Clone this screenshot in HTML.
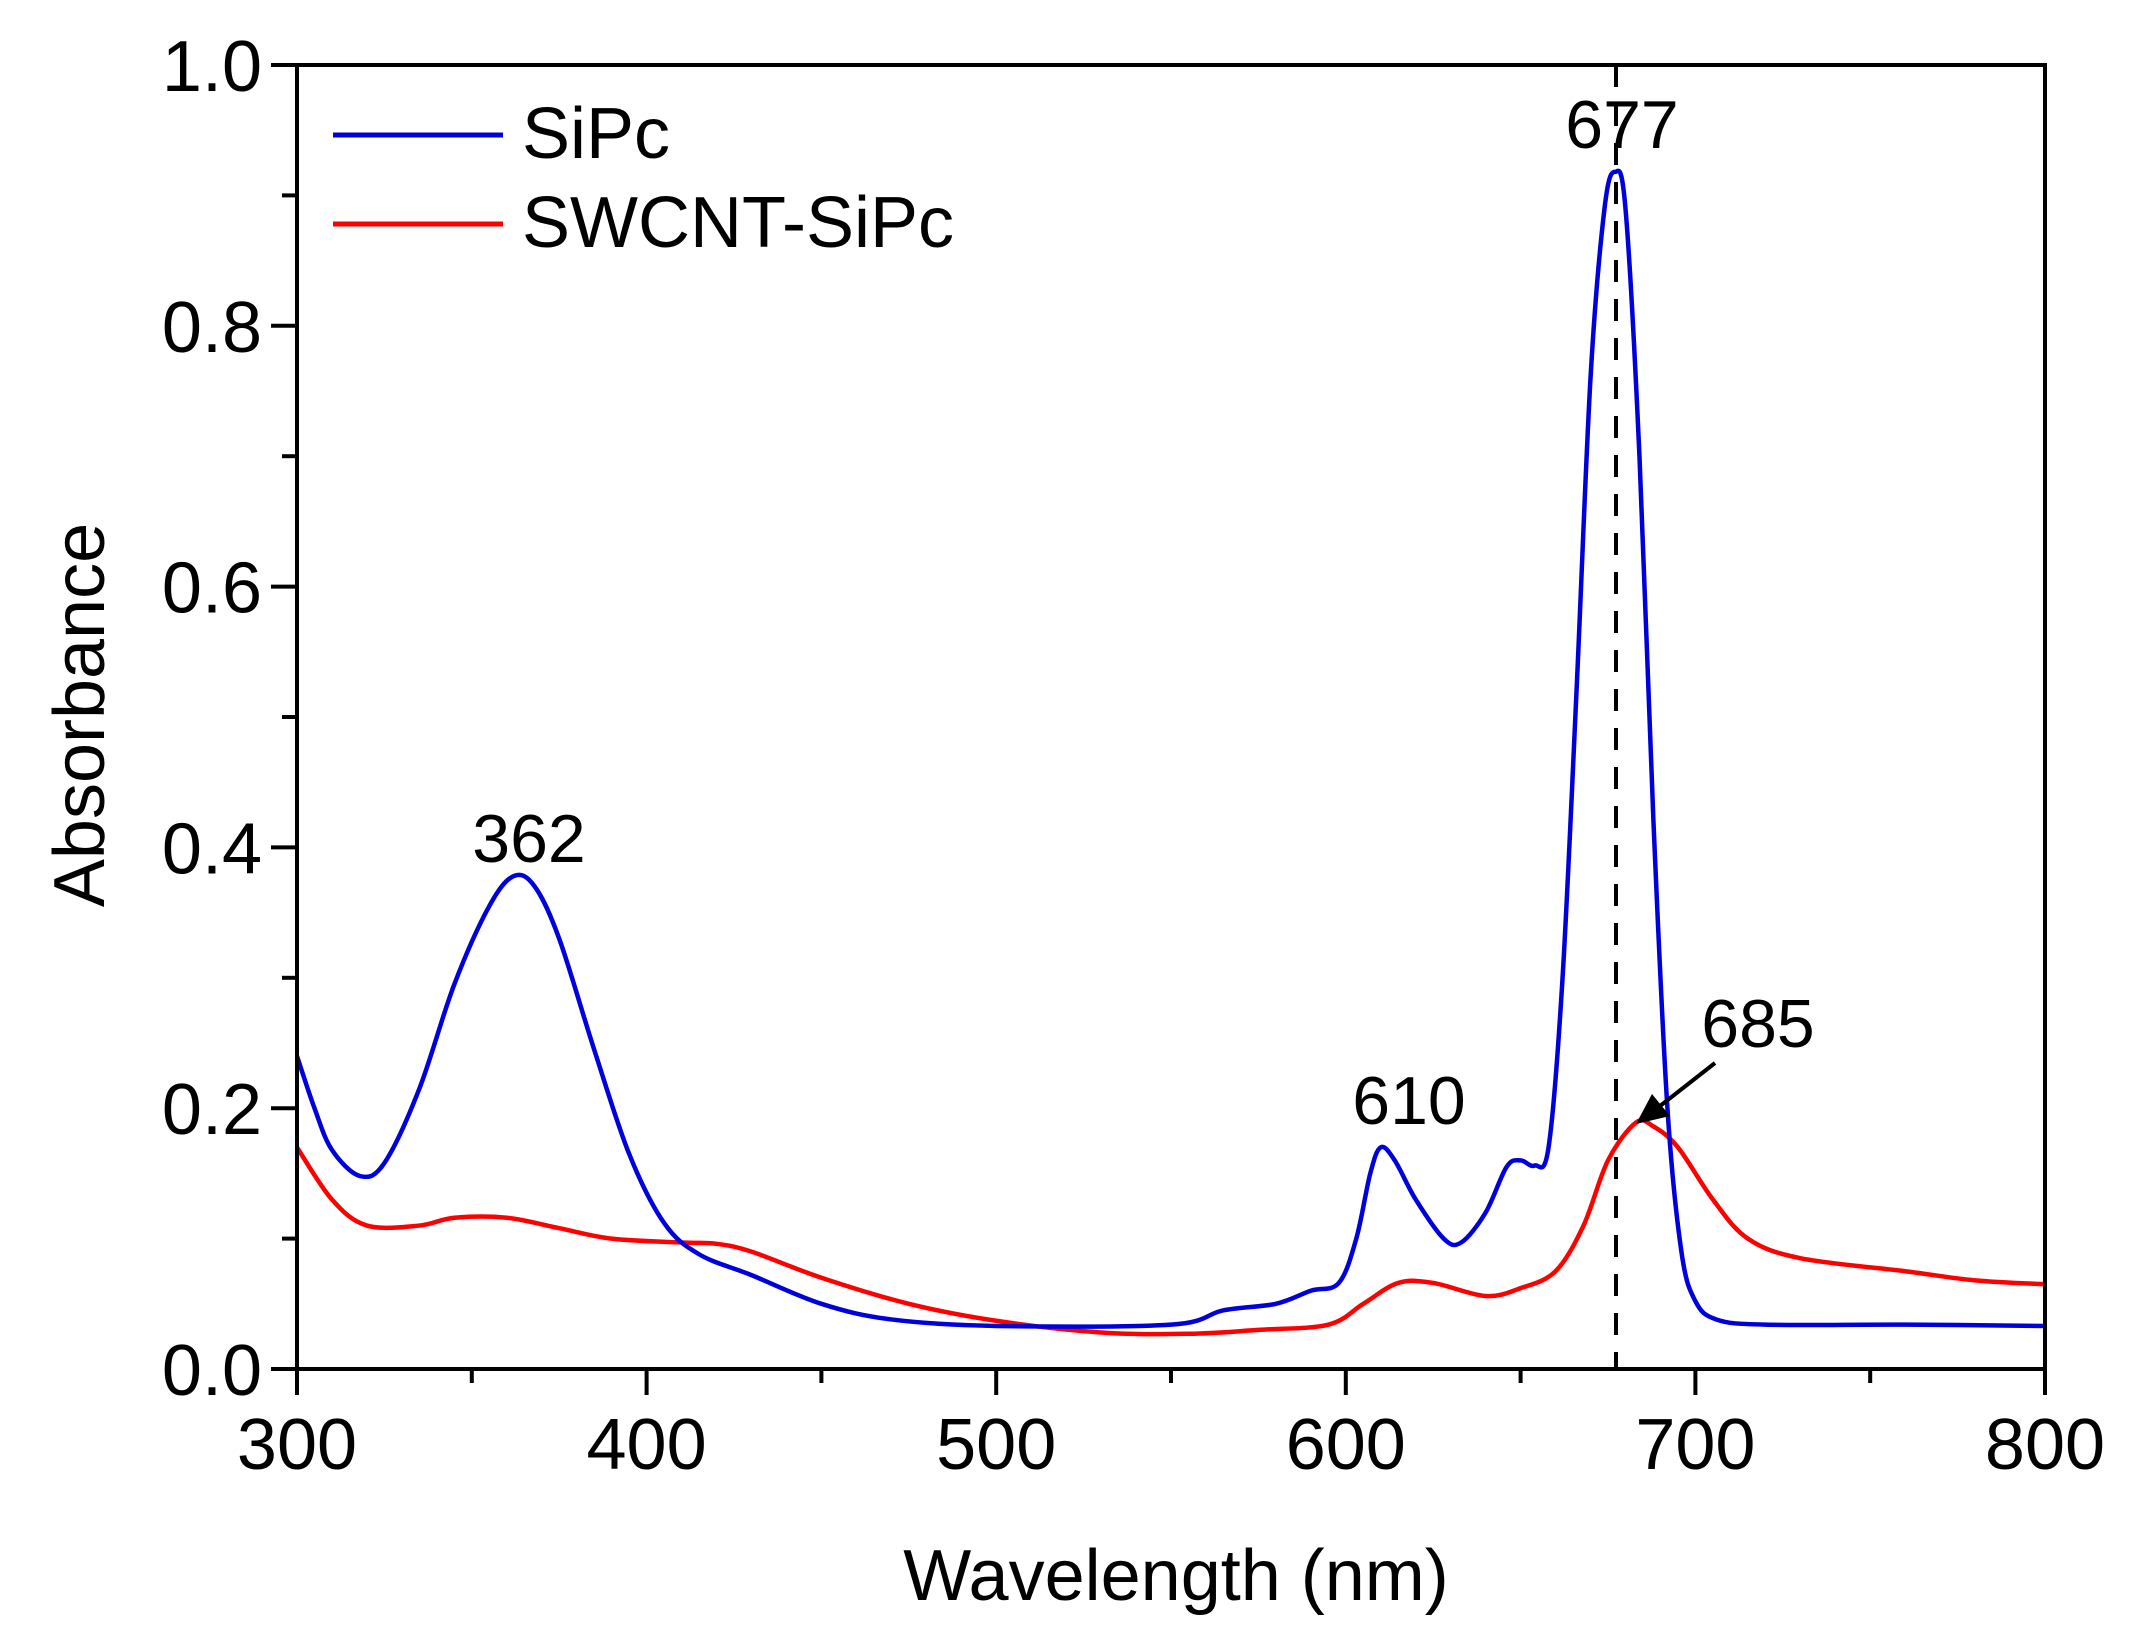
<!DOCTYPE html>
<html><head><meta charset="utf-8"><style>
html,body{margin:0;padding:0;background:#fff}
svg{display:block}
text{font-family:"Liberation Sans",Arial,sans-serif;fill:#000}
</style></head><body>
<svg id="s" width="2145" height="1643" viewBox="0 0 2145 1643" xmlns="http://www.w3.org/2000/svg">
<rect width="2145" height="1643" fill="#fff"/>
<g id="ticks" stroke="#000" stroke-width="4"></g>
<path id="red" fill="none" stroke="#ff0000" stroke-width="4.5" stroke-linejoin="round"/>
<path id="blue" fill="none" stroke="#0000dd" stroke-width="4.5" stroke-linejoin="round"/>
<line x1="1616" y1="65" x2="1616" y2="1369" stroke="#000" stroke-width="4" stroke-dasharray="22,17"/>
<rect x="297" y="65" width="1748" height="1304" fill="none" stroke="#000" stroke-width="4"/>
<line x1="1715" y1="1063" x2="1660" y2="1106" stroke="#000" stroke-width="4"/>
<polygon points="1636,1124 1652,1094 1670,1116" fill="#000"/>
<line x1="333" y1="135" x2="503" y2="135" stroke="#0000dd" stroke-width="5"/>
<line x1="333" y1="224" x2="503" y2="224" stroke="#ff0000" stroke-width="5"/>
<text x="522" y="158" font-size="72">SiPc</text>
<text x="522" y="247" font-size="72">SWCNT-SiPc</text>
<text x="529" y="862" font-size="68" text-anchor="middle">362</text>
<text x="1409" y="1124" font-size="68" text-anchor="middle">610</text>
<text x="1622" y="148" font-size="68" text-anchor="middle">677</text>
<text x="1758" y="1047" font-size="68" text-anchor="middle">685</text>
<g id="lab" font-size="72"></g>
<text x="1176" y="1600" font-size="72" text-anchor="middle">Wavelength (nm)</text>
<text transform="translate(104,715) rotate(-90)" font-size="72" text-anchor="middle">Absorbance</text>
</svg>
<script>
var X=function(w){return 297+(w-300)*3.496},Y=function(a){return 1369-a*1304};
var blue=[[300,.24],[305,.2],[310,.168],[318,.148],[325,.158],[335,.215],[345,.295],[355,.355],[362,.378],[368,.37],[375,.33],[385,.245],[395,.165],[405,.112],[415,.088],[430,.072],[450,.05],[470,.038],[500,.033],[550,.034],[565,.045],[580,.05],[590,.06],[598,.066],[603,.1],[607,.15],[610,.17],[614,.16],[620,.13],[628,.1],[633,.097],[640,.12],[646,.155],[650,.16],[654,.156],[658,.17],[662,.3],[666,.52],[670,.76],[674,.89],[677,.918],[680,.89],[684,.7],[688,.42],[692,.2],[696,.09],[700,.052],[706,.038],[720,.034],[760,.034],[800,.033]];
var red=[[300,.17],[310,.13],[320,.11],[335,.11],[345,.116],[360,.116],[375,.108],[390,.1],[410,.097],[420,.096],[430,.09],[450,.07],[475,.05],[500,.037],[530,.028],[555,.027],[575,.03],[595,.034],[605,.05],[615,.066],[625,.066],[640,.056],[650,.062],[660,.075],[668,.11],[675,.16],[683,.189],[688,.186],[695,.17],[705,.13],[715,.1],[730,.085],[760,.075],[780,.068],[800,.065]];
function path(d){var p=d.map(function(q){return[X(q[0]),Y(q[1])]});var s="M"+p[0];for(var i=0;i<p.length-1;i++){var a=p[i-1]||p[i],b=p[i],c=p[i+1],e=p[i+2]||c;s+="C"+(b[0]+(c[0]-a[0])/6)+","+(b[1]+(c[1]-a[1])/6)+" "+(c[0]-(e[0]-b[0])/6)+","+(c[1]-(e[1]-b[1])/6)+" "+c[0]+","+c[1];}return s;}
document.getElementById("blue").setAttribute("d",path(blue));
document.getElementById("red").setAttribute("d",path(red));
var t="",l="";
for(var w=300;w<=800;w+=50){var x=X(w),maj=w%100==0;t+='<line x1="'+x+'" y1="1369" x2="'+x+'" y2="'+(maj?1395:1383)+'"/>';if(maj)l+='<text x="'+x+'" y="1469" text-anchor="middle">'+w+'</text>';}
for(var i=0;i<=10;i++){var y=Y(i/10),maj=i%2==0;t+='<line x1="297" y1="'+y+'" x2="'+(maj?271:282)+'" y2="'+y+'"/>';if(maj)l+='<text x="262" y="'+(y+26)+'" text-anchor="end">'+(i/10).toFixed(1)+'</text>';}
document.getElementById("ticks").innerHTML=t;document.getElementById("lab").innerHTML=l;
</script>
</body></html>
